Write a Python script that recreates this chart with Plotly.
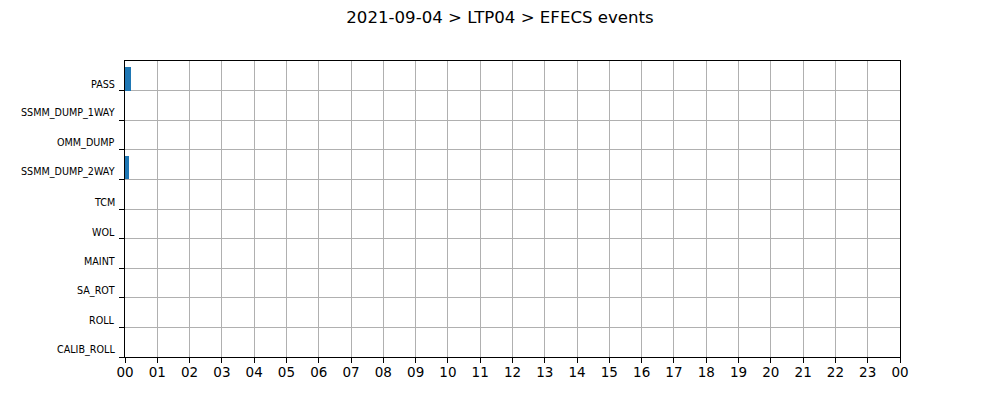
import plotly.graph_objects as go

# Data
categories = ["CALIB_ROLL", "ROLL", "SA_ROT", "MAINT", "WOL", "TCM",
              "SSMM_DUMP_2WAY", "OMM_DUMP", "SSMM_DUMP_1WAY", "PASS"]
event_cats = ["PASS", "SSMM_DUMP_2WAY"]
event_start_h = [0.0, 0.0]        # hours since 00:00
event_dur_h = [0.19, 0.11]        # hours
hour_ticks = list(range(0, 25))
hour_labels = [f"{h % 24:02d}" for h in hour_ticks]
title = "2021-09-04 > LTP04 > EFECS events"

BAR_H = 0.8
y_pos = {c: i for i, c in enumerate(categories)}

fig = go.Figure()
fig.add_trace(go.Bar(
    y=[y_pos[c] + BAR_H / 2 for c in event_cats],
    x=event_dur_h,
    base=event_start_h,
    orientation="h",
    width=BAR_H,
    marker=dict(color="#1f77b4", line=dict(width=0)),
    showlegend=False,
    hovertext=event_cats,
))

for c in categories:
    fig.add_annotation(
        x=0, xref="paper", xanchor="right", xshift=-8,
        y=y_pos[c], yref="y", yanchor="bottom", yshift=-1,
        text=c, showarrow=False,
        font=dict(family="DejaVu Sans", size=9.6, color="black"),
    )

fig.update_layout(
    width=1000, height=400,
    margin=dict(l=117, r=108, t=53, b=51),
    paper_bgcolor="white", plot_bgcolor="white",
    title=dict(text=title, x=0.492, xanchor="center",
               y=1 - 9 / 400, yanchor="middle",
               font=dict(family="DejaVu Sans", size=16.6, color="black")),
    font=dict(family="DejaVu Sans", color="black"),
    bargap=0,
)
fig.update_xaxes(
    range=[0, 24], tickvals=hour_ticks, ticktext=hour_labels,
    showgrid=True, gridcolor="#b0b0b0", gridwidth=1,
    showline=True, linecolor="black", linewidth=1, mirror=True,
    ticks="outside", ticklen=5, tickcolor="black",
    tickfont=dict(size=13.5, family="DejaVu Sans"),
    ticklabelstandoff=-2,
    zeroline=False,
)
fig.update_yaxes(
    range=[0, 10], tickvals=list(range(len(categories))), ticktext=[""] * len(categories),
    showgrid=True, gridcolor="#b0b0b0", gridwidth=1,
    showline=True, linecolor="black", linewidth=1, mirror=True,
    ticks="outside", ticklen=5, tickcolor="black",
    zeroline=False,
)

fig.write_html("out.html")
